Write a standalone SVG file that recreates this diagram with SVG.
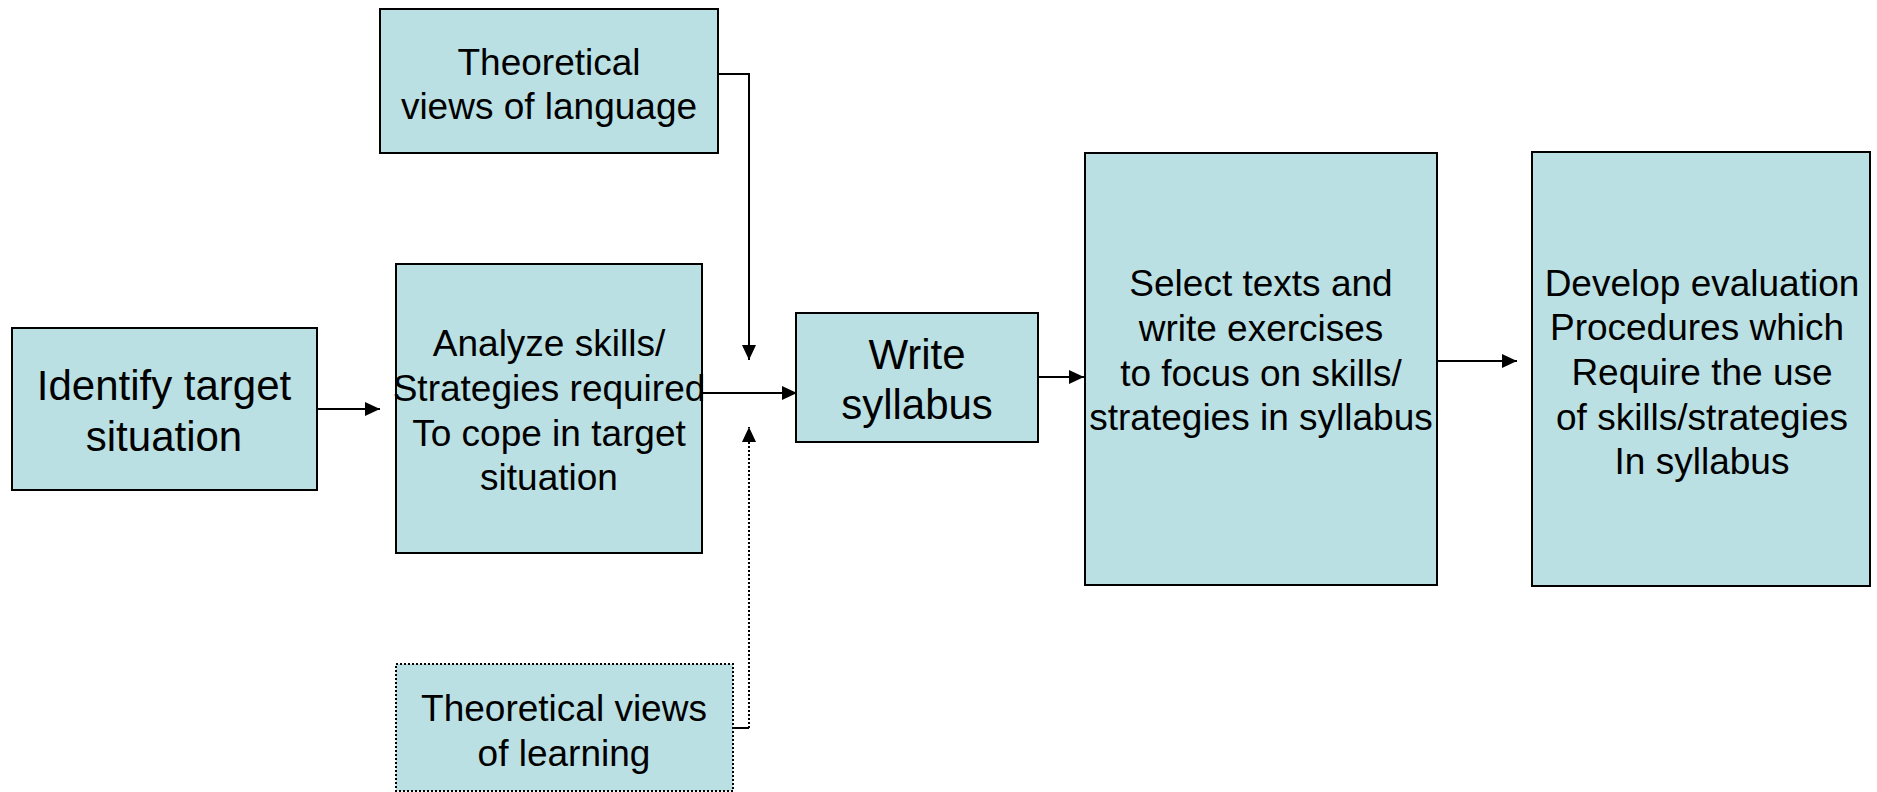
<svg xmlns="http://www.w3.org/2000/svg" width="1877" height="792" viewBox="0 0 1877 792">
<style>
.box{fill:#bae0e3;stroke:#000;stroke-width:2}
.dotbox{fill:#bae0e3;stroke:#000;stroke-width:2;stroke-dasharray:2 2}
.t{font-family:"Liberation Sans",Arial,sans-serif;font-size:37px;fill:#000;text-anchor:middle}
.tb{font-family:"Liberation Sans",Arial,sans-serif;font-size:42px;fill:#000;text-anchor:middle}
.c{fill:none;stroke:#000;stroke-width:2}
.d{fill:none;stroke:#000;stroke-width:2;stroke-dasharray:2 2}
</style>
<defs>
<marker id="ah" markerUnits="userSpaceOnUse" markerWidth="15" markerHeight="14" refX="15" refY="7" orient="auto">
<path d="M0,0 L15,7 L0,14 z" fill="#000"/>
</marker>
</defs>
<rect width="1877" height="792" fill="#fff"/>
<g id="connectors">
<line class="c" x1="317" y1="409" x2="380" y2="409" marker-end="url(#ah)"/>
<line class="c" x1="702" y1="393" x2="797" y2="393" marker-end="url(#ah)"/>
<line class="c" x1="1038" y1="377" x2="1084" y2="377" marker-end="url(#ah)"/>
<line class="c" x1="1437" y1="361" x2="1517" y2="361" marker-end="url(#ah)"/>
<path class="c" d="M717,74 H749 V360" marker-end="url(#ah)"/>
<path class="c" d="M733,728 H749"/>
<path class="d" d="M749,728 V427" marker-end="url(#ah)"/>
</g>
<g id="node-theory-language">
<rect class="box" x="380" y="9" width="338" height="144"/>
<text class="t" x="549" y="75">Theoretical</text>
<text class="t" x="549" y="119">views of language</text>
</g>
<g id="node-identify">
<rect class="box" x="12" y="328" width="305" height="162"/>
<text class="tb" x="164" y="400">Identify target</text>
<text class="tb" x="164" y="451">situation</text>
</g>
<g id="node-analyze">
<rect class="box" x="396" y="264" width="306" height="289"/>
<text class="t" x="549" y="356">Analyze skills/</text>
<text class="t" x="549" y="401">Strategies required</text>
<text class="t" x="549" y="446">To cope in target</text>
<text class="t" x="549" y="490">situation</text>
</g>
<g id="node-write">
<rect class="box" x="796" y="313" width="242" height="129"/>
<text class="tb" x="917" y="369">Write</text>
<text class="tb" x="917" y="419">syllabus</text>
</g>
<g id="node-select">
<rect class="box" x="1085" y="153" width="352" height="432"/>
<text class="t" x="1261" y="296">Select texts and</text>
<text class="t" x="1261" y="341">write exercises</text>
<text class="t" x="1261" y="386">to focus on skills/</text>
<text class="t" x="1261" y="430">strategies in syllabus</text>
</g>
<g id="node-develop">
<rect class="box" x="1532" y="152" width="338" height="434"/>
<text class="t" x="1702" y="296">Develop evaluation</text>
<text class="t" x="1697" y="340">Procedures which</text>
<text class="t" x="1702" y="385">Require the use</text>
<text class="t" x="1702" y="430">of skills/strategies</text>
<text class="t" x="1702" y="474">In syllabus</text>
</g>
<g id="node-theory-learning">
<rect class="dotbox" x="396" y="664" width="337" height="127"/>
<text class="t" x="564" y="721">Theoretical views</text>
<text class="t" x="564" y="766">of learning</text>
</g>
</svg>
